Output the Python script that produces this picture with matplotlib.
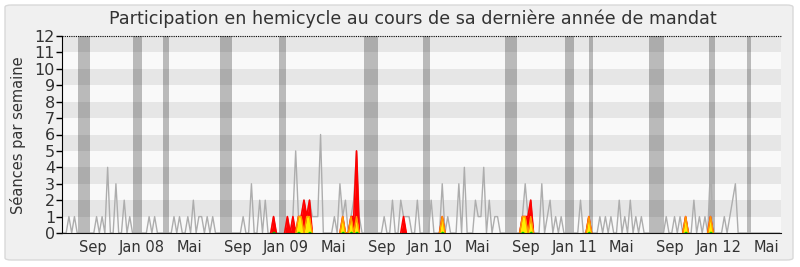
import numpy as np
import matplotlib
matplotlib.use("Agg")
import matplotlib.pyplot as plt
from matplotlib.patches import FancyBboxPatch

# ---------------- data ----------------
start_week = "2007-06-18"

seances = [
    0, 0, 1, 0, 1, 0, 0, 0, 0, 0, 0, 0, 1, 0, 1, 0, 4, 0, 0, 3,
    0, 0, 2, 0, 1, 0, 0, 0, 0, 0, 0, 1, 0, 1, 0, 0, 0, 0, 0, 0,
    1, 0, 1, 0, 0, 1, 0, 2, 0, 1, 1, 0, 1, 0, 1, 0, 0, 0, 0, 0,
    0, 0, 0, 0, 0, 1, 0, 0, 3, 0, 0, 2, 0, 2, 0, 0, 1, 0, 0, 0,
    0, 1, 0, 1, 5, 1, 1, 2, 1, 2, 1, 1, 1, 6, 0, 0, 0, 0, 1, 0,
    3, 1, 2, 0, 1, 2, 5, 1, 0, 0, 0, 0, 0, 0, 0, 0, 1, 0, 0, 2,
    0, 0, 2, 1, 1, 1, 0, 0, 2, 0, 0, 0, 0, 2, 0, 0, 0, 3, 0, 1,
    0, 0, 0, 3, 0, 4, 0, 0, 0, 2, 1, 1, 4, 0, 2, 0, 1, 1, 0, 0,
    0, 0, 0, 0, 0, 0, 1, 3, 1, 2, 0, 0, 0, 3, 0, 1, 2, 0, 1, 0,
    1, 0, 0, 0, 0, 0, 0, 2, 0, 0, 1, 0, 0, 0, 1, 0, 1, 0, 1, 0,
    0, 2, 0, 1, 0, 2, 0, 1, 0, 1, 0, 0, 0, 0, 0, 0, 0, 0, 1, 0,
    0, 1, 0, 1, 0, 1, 0, 0, 2, 0, 1, 0, 1, 0, 4, 0, 0, 0, 0, 1,
    0, 1, 2, 3, 0, 0, 0, 0, 0, 0, 0, 0, 0, 0, 0, 0, 0, 0, 0, 0,
]

presence = [
    0, 0, 0, 0, 0, 0, 0, 0, 0, 0, 0, 0, 0, 0, 0, 0, 0, 0, 0, 0,
    0, 0, 0, 0, 0, 0, 0, 0, 0, 0, 0, 0, 0, 0, 0, 0, 0, 0, 0, 0,
    0, 0, 0, 0, 0, 0, 0, 0, 0, 0, 0, 0, 0, 0, 0, 0, 0, 0, 0, 0,
    0, 0, 0, 0, 0, 0, 0, 0, 0, 0, 0, 0, 0, 0, 0, 0, 1, 0, 0, 0,
    0, 1, 0, 1, 0, 1, 1, 2, 1, 2, 0, 0, 0, 0, 0, 0, 0, 0, 0, 0,
    0, 1, 0, 0, 1, 1, 5, 0, 0, 0, 0, 0, 0, 0, 0, 0, 0, 0, 0, 0,
    0, 0, 0, 1, 0, 0, 0, 0, 0, 0, 0, 0, 0, 0, 0, 0, 0, 1, 0, 0,
    0, 0, 0, 0, 0, 0, 0, 0, 0, 0, 0, 0, 0, 0, 0, 0, 0, 0, 0, 0,
    0, 0, 0, 0, 0, 0, 1, 1, 1, 2, 0, 0, 0, 0, 0, 0, 0, 0, 0, 0,
    0, 0, 0, 0, 0, 0, 0, 0, 0, 0, 1, 0, 0, 0, 0, 0, 0, 0, 0, 0,
    0, 0, 0, 0, 0, 0, 0, 0, 0, 0, 0, 0, 0, 0, 0, 0, 0, 0, 0, 0,
    0, 0, 0, 0, 0, 1, 0, 0, 0, 0, 0, 0, 0, 0, 1, 0, 0, 0, 0, 0,
    0, 0, 0, 0, 0, 0, 0, 0, 0, 0, 0, 0, 0, 0, 0, 0, 0, 0, 0, 0,
]

participation = [
    0, 0, 0, 0, 0, 0, 0, 0, 0, 0, 0, 0, 0, 0, 0, 0, 0, 0, 0, 0,
    0, 0, 0, 0, 0, 0, 0, 0, 0, 0, 0, 0, 0, 0, 0, 0, 0, 0, 0, 0,
    0, 0, 0, 0, 0, 0, 0, 0, 0, 0, 0, 0, 0, 0, 0, 0, 0, 0, 0, 0,
    0, 0, 0, 0, 0, 0, 0, 0, 0, 0, 0, 0, 0, 0, 0, 0, 0, 0, 0, 0,
    0, 0, 0, 0, 0, 1, 1, 0, 1, 1, 0, 0, 0, 0, 0, 0, 0, 0, 0, 0,
    0, 1, 0, 0, 1, 0, 1, 0, 0, 0, 0, 0, 0, 0, 0, 0, 0, 0, 0, 0,
    0, 0, 0, 0, 0, 0, 0, 0, 0, 0, 0, 0, 0, 0, 0, 0, 0, 1, 0, 0,
    0, 0, 0, 0, 0, 0, 0, 0, 0, 0, 0, 0, 0, 0, 0, 0, 0, 0, 0, 0,
    0, 0, 0, 0, 0, 0, 1, 1, 0, 1, 0, 0, 0, 0, 0, 0, 0, 0, 0, 0,
    0, 0, 0, 0, 0, 0, 0, 0, 0, 0, 1, 0, 0, 0, 0, 0, 0, 0, 0, 0,
    0, 0, 0, 0, 0, 0, 0, 0, 0, 0, 0, 0, 0, 0, 0, 0, 0, 0, 0, 0,
    0, 0, 0, 0, 0, 1, 0, 0, 0, 0, 0, 0, 0, 0, 1, 0, 0, 0, 0, 0,
    0, 0, 0, 0, 0, 0, 0, 0, 0, 0, 0, 0, 0, 0, 0, 0, 0, 0, 0, 0,
]

questions = [
    0, 0, 0, 0, 0, 0, 0, 0, 0, 0, 0, 0, 0, 0, 0, 0, 0, 0, 0, 0,
    0, 0, 0, 0, 0, 0, 0, 0, 0, 0, 0, 0, 0, 0, 0, 0, 0, 0, 0, 0,
    0, 0, 0, 0, 0, 0, 0, 0, 0, 0, 0, 0, 0, 0, 0, 0, 0, 0, 0, 0,
    0, 0, 0, 0, 0, 0, 0, 0, 0, 0, 0, 0, 0, 0, 0, 0, 0.12, 0, 0, 0,
    0, 0, 0, 0, 0, 0.12, 0, 0, 0, 0.12, 0, 0, 0, 0, 0, 0, 0, 0, 0, 0,
    0, 0.12, 0, 0, 0.12, 0, 0.12, 0, 0, 0, 0, 0, 0, 0, 0, 0, 0, 0, 0, 0,
    0, 0, 0, 0, 0, 0, 0, 0, 0, 0, 0, 0, 0, 0, 0, 0, 0, 0.12, 0, 0,
    0, 0, 0, 0, 0, 0, 0, 0, 0, 0, 0, 0, 0, 0, 0, 0, 0, 0, 0, 0,
    0, 0, 0, 0, 0, 0, 0.12, 0, 0, 0.12, 0, 0, 0, 0, 0, 0, 0, 0, 0, 0,
    0, 0, 0, 0, 0, 0, 0, 0, 0, 0, 0.12, 0, 0, 0, 0, 0, 0, 0, 0, 0,
    0, 0, 0, 0, 0, 0, 0, 0, 0, 0, 0, 0, 0, 0, 0, 0, 0, 0, 0, 0,
    0, 0, 0, 0, 0, 0.12, 0, 0, 0, 0, 0, 0, 0, 0, 0.12, 0, 0, 0, 0, 0,
    0, 0, 0, 0, 0, 0, 0, 0, 0, 0, 0, 0, 0, 0, 0, 0, 0, 0, 0, 0,
]

vacances = [
    ("2007-07-25", "2007-08-24"),
    ("2007-12-11", "2008-01-03"),
    ("2008-02-25", "2008-03-11"),
    ("2008-07-18", "2008-08-17"),
    ("2008-12-16", "2009-01-01"),
    ("2009-07-17", "2009-08-23"),
    ("2009-12-15", "2010-01-02"),
    ("2010-07-11", "2010-08-10"),
    ("2010-12-09", "2011-01-01"),
    ("2011-02-08", "2011-02-18"),
    ("2011-07-09", "2011-08-16"),
    ("2011-12-08", "2011-12-23"),
    ("2012-03-13", "2012-03-23"),
]

tick_dates = ["2007-09-01", "2008-01-01", "2008-05-01", "2008-09-01", "2009-01-01",
              "2009-05-01", "2009-09-01", "2010-01-01", "2010-05-01", "2010-09-01",
              "2011-01-01", "2011-05-01", "2011-09-01", "2012-01-01", "2012-05-01"]
tick_labels = ["Sep", "Jan 08", "Mai", "Sep", "Jan 09", "Mai", "Sep", "Jan 10",
               "Mai", "Sep", "Jan 11", "Mai", "Sep", "Jan 12", "Mai"]
y_ticks = list(range(0, 13))

title = "Participation en hemicycle au cours de sa dernière année de mandat"
ylabel = "Séances par semaine"

# ---------------- figure ----------------
W, H = 800, 267
fig = plt.figure(figsize=(W / 100, H / 100), dpi=100)
fig.patch.set_facecolor("white")
frame = FancyBboxPatch((5 / W, 7 / H), 788 / W, 255 / H,
                       boxstyle="round,pad=0,rounding_size=0.008",
                       transform=fig.transFigure, fc="#f0f0f0", ec="#d9d9d9",
                       lw=1.0, zorder=-10)
fig.patches.append(frame)

ax = fig.add_axes([62 / W, (H - 233) / H, 719 / W, 197 / H])
ax.set_facecolor("#f9f9f9")

weeks = np.datetime64(start_week) + np.arange(len(seances)) * np.timedelta64(7, "D")
half = np.timedelta64(84, "h")

# horizontal bands
for k in range(12):
    if k % 2 == 1:
        ax.axhspan(k, k + 1, color="#e6e6e6", lw=0, zorder=0)

# vacation bars
for a, b in vacances:
    ax.axvspan(np.datetime64(a), np.datetime64(b), color="black", alpha=0.25,
               lw=0, zorder=1)

ax.plot(weeks, seances, color="#adadad", lw=1.0, zorder=2)


def edge_only(vals):
    """Mask points that are zero with zero neighbours (no baseline line)."""
    v = np.asarray(vals, dtype=float)
    left = np.r_[0.0, v[:-1]]
    right = np.r_[v[1:], 0.0]
    return np.ma.masked_where((v == 0) & (left == 0) & (right == 0), v)


pres = np.array(presence, dtype=float)
part = np.array(participation, dtype=float)
ques = np.array(questions, dtype=float)

ax.fill_between(weeks, 0, pres, color="#ff0000", lw=0, zorder=3)
ax.plot(weeks, edge_only(pres), color="#ff0000", lw=1.2, zorder=3)
ax.fill_between(weeks, 0, part, color="#ffee00", lw=0, zorder=4)
ax.plot(weeks, edge_only(part), color="#ff9900", lw=1.0, zorder=4.5)
ax.fill_between(weeks, 0, ques, color="#00cc00", lw=0, zorder=5)

ax.set_xlim(weeks[0] - half, weeks[-1] + half)
ax.set_ylim(0, 12)

ax.set_yticks(y_ticks)
ax.set_yticklabels([str(v) for v in y_ticks])
ax.set_xticks([np.datetime64(d) for d in tick_dates])
ax.set_xticklabels(tick_labels)

ax.tick_params(axis="y", direction="out", length=4, width=1, color="black",
               labelsize=11.5, labelcolor="#333333", pad=1)
ax.tick_params(axis="x", length=0, labelsize=10.5, labelcolor="#333333", pad=5)

for s in ["right", "top"]:
    ax.spines[s].set_visible(False)
ax.spines["left"].set_color("black")
ax.spines["bottom"].set_color("#111111")
ax.spines["left"].set_zorder(6)
ax.spines["bottom"].set_zorder(6)
ax.axhline(12, color="black", lw=0.8, ls=(0, (1, 1)), zorder=6, clip_on=False)

fig.text(413 / W, 1 - 19 / H, title, ha="center", va="center", fontsize=12.6,
         color="#333333")
fig.text(18 / W, (H - 135) / H, ylabel, rotation=90, ha="center", va="center",
         fontsize=10.5, color="#333333")

fig.savefig("out.png", dpi=100, facecolor="white")
